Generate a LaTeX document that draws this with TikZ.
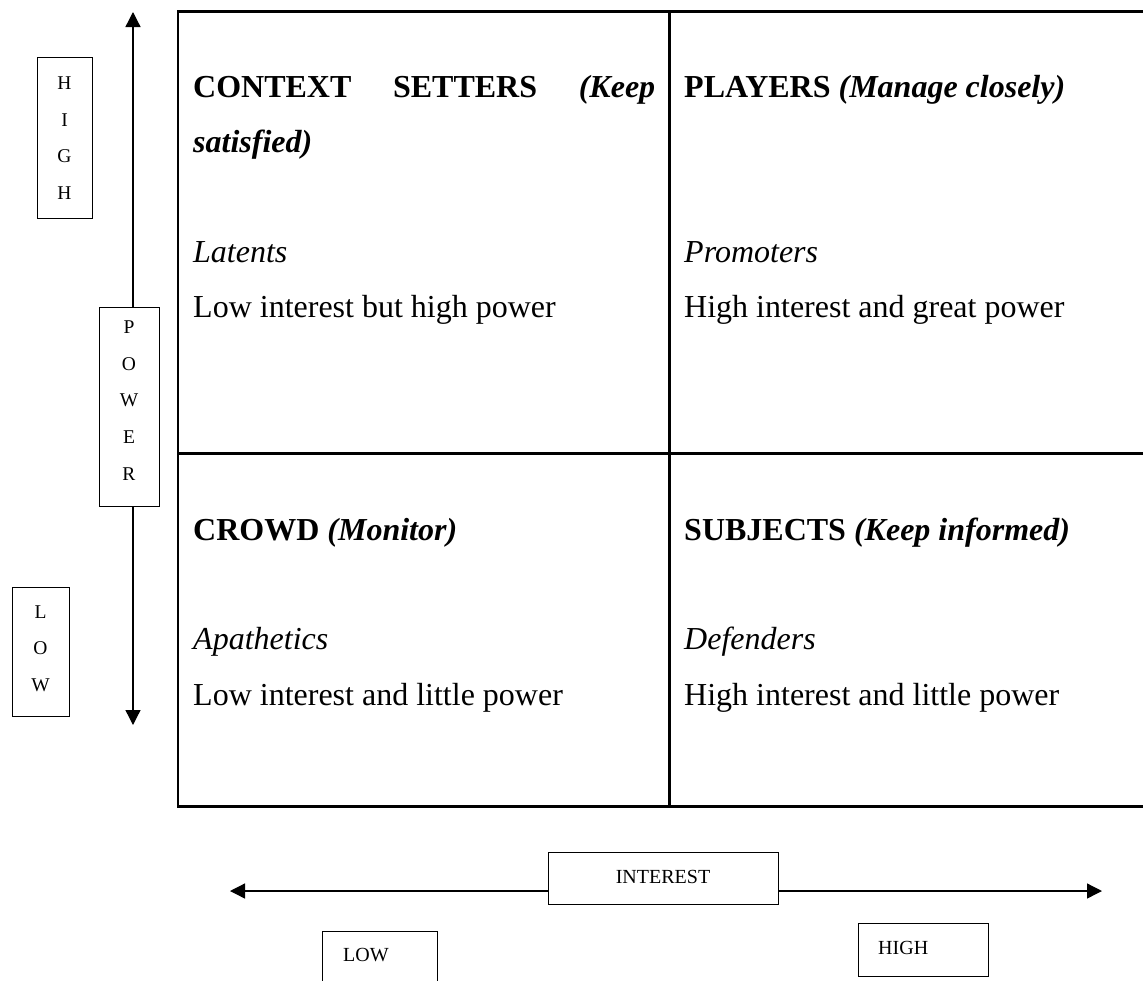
\documentclass[tikz,border=0pt]{standalone}
\usepackage{fontspec}
\setmainfont{Liberation Serif}
\usetikzlibrary{arrows.meta}

\begin{document}
\begin{tikzpicture}[x=1pt,y=-1pt,
  gridline/.style={line width=2.3pt},
  axisline/.style={line width=1.3pt,-{Triangle[length=15pt,width=15pt]}},
  tagbox/.style={draw,line width=1pt,fill=white,inner sep=0pt},
  letters/.style={inner sep=0pt,align=center,font=\fontsize{19.5}{36.7}\selectfont},
  small/.style={inner sep=0pt,anchor=base west,font=\fontsize{20}{20}\selectfont},
  cell/.style={inner sep=0pt,anchor=base west,font=\fontsize{32}{32}\selectfont},
]
\useasboundingbox (0,0) rectangle (1143,980);
\clip (0,0) rectangle (1143,980);

% quadrant grid (right border lies outside the page)
\draw[gridline] (178,11.5) rectangle (1152,806.5);
\draw[gridline] (669.5,11.5) -- (669.5,806.5);
\draw[gridline] (178,453.5) -- (1152,453.5);

% top-left cell
\node[cell] (tl1) at (193,97) {\makebox[462pt][s]{\textbf{CONTEXT} \textbf{SETTERS} \textbf{\textit{(Keep}}}};
\node[cell] (tl2) at (193,152) {\textbf{\textit{satisfied)}}};
\node[cell] (tl3) at (193,262) {\textit{Latents}};
\node[cell] (tl4) at (193,317) {Low interest but high power};

% top-right cell
\node[cell] (tr1) at (684,97) {\textbf{PLAYERS \textit{(Manage closely)}}};
\node[cell] (tr3) at (684,262) {\textit{Promoters}};
\node[cell] (tr4) at (684,317) {High interest and great power};

% bottom-left cell
\node[cell] (bl1) at (193,540) {\textbf{CROWD \textit{(Monitor)}}};
\node[cell] (bl3) at (193,649) {\textit{Apathetics}};
\node[cell] (bl4) at (193,705) {Low interest and little power};

% bottom-right cell
\node[cell] (br1) at (684,540) {\textbf{SUBJECTS \textit{(Keep informed)}}};
\node[cell] (br3) at (684,649) {\textit{Defenders}};
\node[cell] (br4) at (684,705) {High interest and little power};

% power axis
\coordinate (ptop) at (133,12);
\coordinate (pbot) at (133,725);
\node[tagbox,minimum width=60pt,minimum height=199pt] (pow) at (129,406.5) {};
\node[letters] (powtxt) at (129,400.5) {P\\O\\W\\E\\R};
\draw[axisline] (pow.north -| ptop) -- (ptop);
\draw[axisline] (pow.south -| pbot) -- (pbot);

\node[tagbox,minimum width=55pt,minimum height=161pt] (hi) at (64.5,137.5) {};
\node[letters] (hitxt) at (64.5,138) {H\\I\\G\\H};
\node[tagbox,minimum width=57pt,minimum height=129pt] (lo) at (40.5,651.5) {};
\node[letters] (lotxt) at (40.5,648.5) {L\\O\\W};

% interest axis
\coordinate (ileft) at (230,891);
\coordinate (iright) at (1102,891);
\node[tagbox,minimum width=230pt,minimum height=52pt] (int) at (663,878) {};
\node[inner sep=0pt,anchor=base,font=\fontsize{20}{20}\selectfont] (inttxt) at (663,883) {INTEREST};
\draw[axisline] (int.west |- ileft) -- (ileft);
\draw[axisline] (int.east |- iright) -- (iright);

\node[tagbox,minimum width=115pt,minimum height=80pt] (ilo) at (379.5,971) {};
\node[small] (ilotxt) at (343,961) {LOW};
\node[tagbox,minimum width=130pt,minimum height=53pt] (ihi) at (923,949.5) {};
\node[small] (ihitxt) at (878,954) {HIGH};
\end{tikzpicture}
\end{document}
